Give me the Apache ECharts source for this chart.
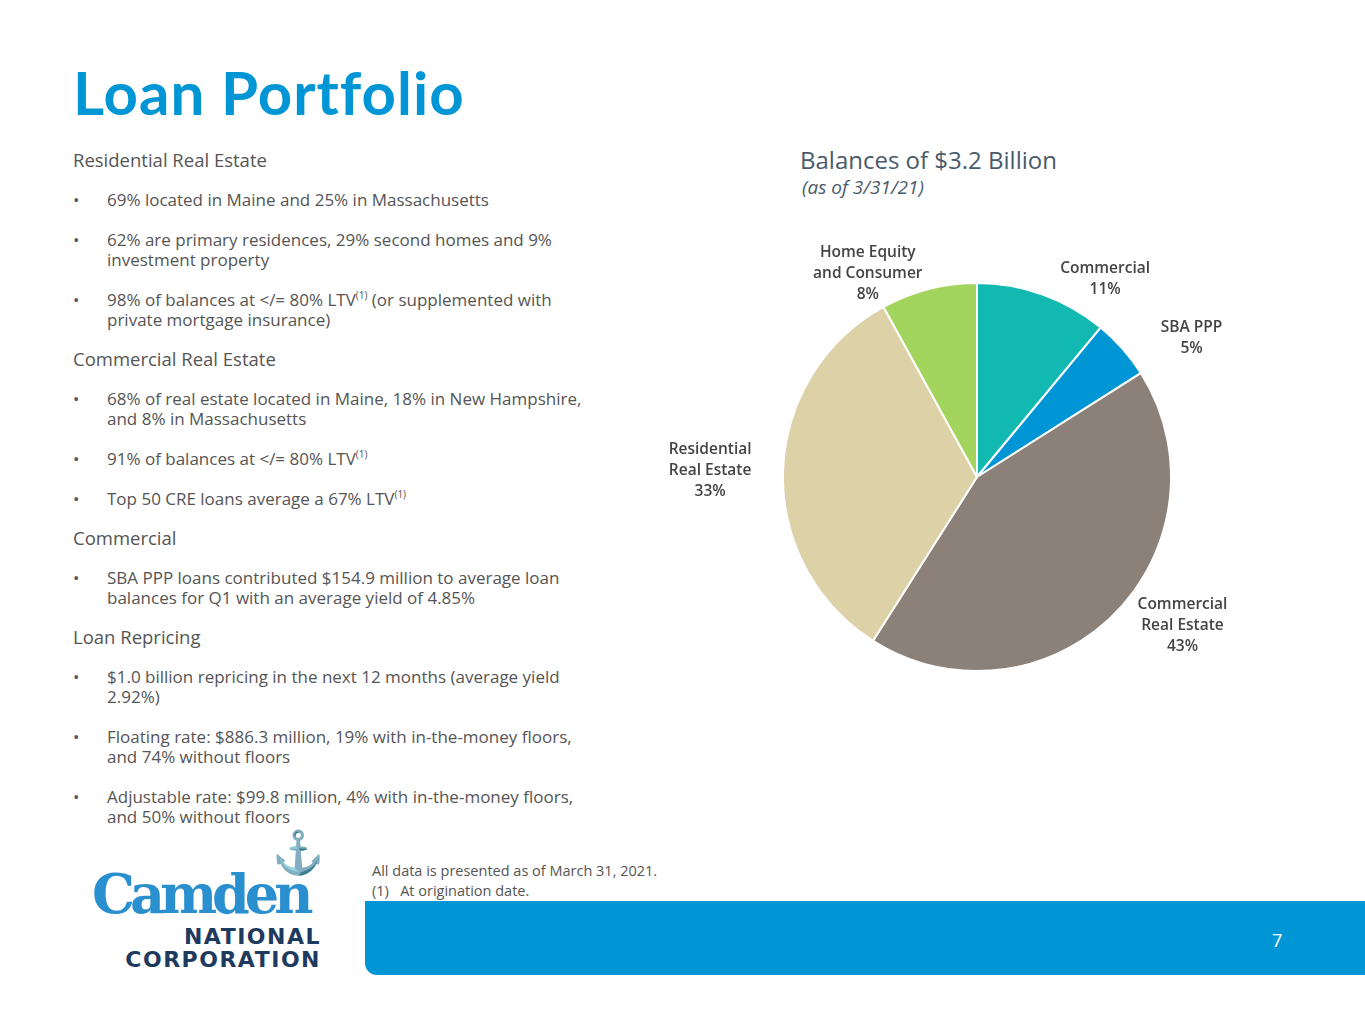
<!DOCTYPE html>
<html>
<head>
<meta charset="utf-8">
<script src="https://cdn.jsdelivr.net/npm/echarts@6/dist/echarts.min.js"></script>
<style>
  body { margin: 0; width: 1365px; height: 1024px; background: #fff; font-family: "Open Sans", Lato, sans-serif; position: relative; overflow: hidden; }
  #title { position: absolute; left: 73px; top: 56px; font: 700 60px Lato, "Open Sans", sans-serif; color: #0096d6; letter-spacing: 1px; }
  #left { position: absolute; left: 73px; top: 150px; width: 528px; color: #555; font-size: 17px; line-height: 20px; }
  #left h3 { font-weight: 400; font-size: 18.5px; margin: 0 0 20px 0; color: #555; }
  #left ul { margin: 0 0 19px 0; padding: 0; list-style: none; }
  #left li { position: relative; padding-left: 34px; margin-bottom: 20px; }
  #left li:before { content: "•"; position: absolute; left: 0; }
  #left li:last-child { margin-bottom: 19px; }
  sup { font-size: 10px; line-height: 0; }
  #ctitle { position: absolute; left: 800px; top: 143px; font-size: 24px; color: #4a5a6a; }
  #csub { position: absolute; left: 802px; top: 174px; font-size: 19px; color: #4a5a6a; font-style: italic; }
  #chart { position: absolute; left: 0; top: 0; width: 1365px; height: 1024px; }
  #notes { position: absolute; left: 372px; top: 861px; font-size: 14.5px; color: #555; line-height: 20px; }
  #bar { position: absolute; left: 365px; top: 901px; width: 1000px; height: 74px; background: #0096d6; border-bottom-left-radius: 12px; }
  #pg { position: absolute; left: 1272px; top: 928px; color: #fff; font-size: 18px; }
  #logo1 { position: absolute; left: 92px; top: 862px; font: 700 54px "DejaVu Serif", "Liberation Serif", serif; color: #2a8fcf; letter-spacing: -5px; }
  #anchor { position: absolute; left: 272px; top: 822px; font-size: 42px; color: #1e3a5f; }
  #logo2 { position: absolute; left: 120px; top: 925px; width: 201px; text-align: right; font: 700 22px "DejaVu Sans", sans-serif; color: #1e3a5f; letter-spacing: 1.5px; line-height: 23px; }
</style>
</head>
<body>
<div id="title">Loan Portfolio</div>
<div id="left">
  <h3>Residential Real Estate</h3>
  <ul>
    <li>69% located in Maine and 25% in Massachusetts</li>
    <li>62% are primary residences, 29% second homes and 9% investment property</li>
    <li>98% of balances at &lt;/= 80% LTV<sup>(1)</sup> (or supplemented with private mortgage insurance)</li>
  </ul>
  <h3>Commercial Real Estate</h3>
  <ul>
    <li>68% of real estate located in Maine, 18% in New Hampshire, and 8% in Massachusetts</li>
    <li>91% of balances at &lt;/= 80% LTV<sup>(1)</sup></li>
    <li>Top 50 CRE loans average a 67% LTV<sup>(1)</sup></li>
  </ul>
  <h3>Commercial</h3>
  <ul>
    <li>SBA PPP loans contributed $154.9 million to average loan balances for Q1 with an average yield of 4.85%</li>
  </ul>
  <h3>Loan Repricing</h3>
  <ul>
    <li>$1.0 billion repricing in the next 12 months (average yield 2.92%)</li>
    <li>Floating rate: $886.3 million, 19% with in-the-money floors, and 74% without floors</li>
    <li>Adjustable rate: $99.8 million, 4% with in-the-money floors, and 50% without floors</li>
  </ul>
</div>
<div id="ctitle">Balances of $3.2 Billion</div>
<div id="csub">(as of 3/31/21)</div>
<div id="bar"></div>
<div id="pg">7</div>
<div id="notes">All data is presented as of March 31, 2021.<br>(1)&nbsp;&nbsp;&nbsp;At origination date.</div>
<div id="anchor">⚓</div>
<div id="logo1">Camden</div>
<div id="logo2">NATIONAL<br>CORPORATION</div>
<div id="chart"></div>
<script>
const categories = ['Commercial', 'SBA PPP', 'Commercial\nReal Estate', 'Residential\nReal Estate', 'Home Equity\nand Consumer'];
const shares = [11, 5, 43, 33, 8];
const colors = ['#12b9b1', '#0096d6', '#8b8178', '#ddd1a7', '#a3d55e'];

const myChart = echarts.init(document.getElementById('chart'));
myChart.setOption({
    color: colors,
    series: [{
        type: 'pie',
        center: [977, 477],
        radius: 194,
        startAngle: 90,
        clockwise: true,
        animation: false,
        itemStyle: { borderColor: '#fff', borderWidth: 2 },
        label: {
            show: true,
            position: 'outside',
            formatter: p => p.name.split('\n').map(s => '{t|' + s + '}').join('\n') + '\n{t|' + p.value + '%}',
            rich: {
                t: { width: 104, align: 'center', color: '#444', fontSize: 15.5, fontWeight: 600, lineHeight: 21, fontFamily: '"Open Sans", sans-serif' }
            }
        },
        labelLine: { show: false, length: 16, length2: 0 },
        data: categories.map((c, i) => ({ name: c, value: shares[i] }))
    }]
});
</script>
</body>
</html>
